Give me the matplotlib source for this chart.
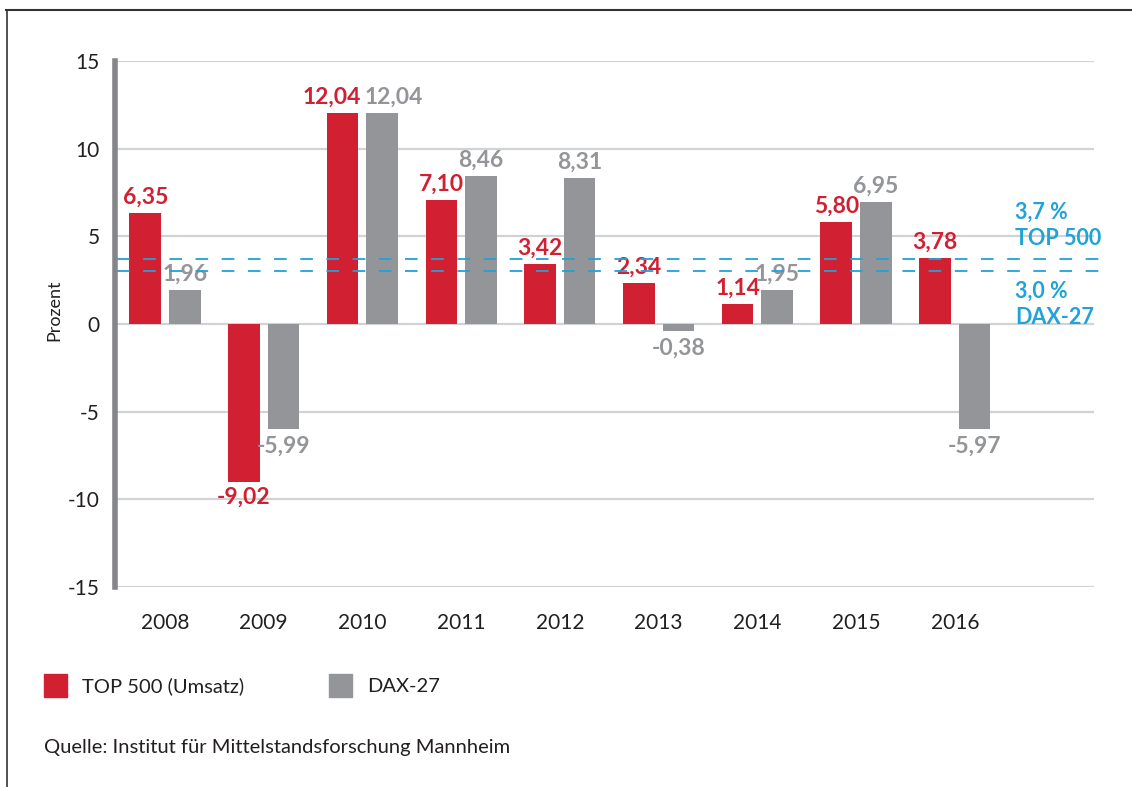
import numpy as np
import matplotlib
matplotlib.use('Agg')
from matplotlib import pyplot as plt
from matplotlib.patches import Rectangle
from matplotlib.lines import Line2D

years = ['2008', '2009', '2010', '2011', '2012', '2013', '2014', '2015', '2016']
top500 = [6.35, -9.02, 12.04, 7.10, 3.42, 2.34, 1.14, 5.80, 3.78]
dax27 = [1.96, -5.99, 12.04, 8.46, 8.31, -0.38, 1.95, 6.95, -5.97]
avg_top500 = 3.7
avg_dax27 = 3.0

red = '#d12031'
grey = '#939598'
blue = '#1fa3d9'
txt = '#231f20'

plt.rcParams['font.family'] = ['Lato', 'DejaVu Sans']
plt.rcParams['axes.unicode_minus'] = False

fig = plt.figure(figsize=(11.32, 7.87), dpi=100)
ax = fig.add_axes([0.1016, 0.2541, 0.8648, 0.6684])

x = np.arange(len(years))
w = 0.32
off = 0.2
ax.bar(x - off, top500, w, color=red, zorder=3)
ax.bar(x + off, dax27, w, color=grey, zorder=3)

ax.set_ylim(-15, 15)
ax.set_xlim(-0.506, 9.41)
ax.set_yticks(range(-15, 16, 5))
ax.set_xticks(x)
ax.set_xticklabels(years)
ax.tick_params(length=0, labelsize=15, colors=txt)
ax.tick_params(axis='x', pad=19)
ax.tick_params(axis='y', pad=11)
ax.grid(axis='y', color='#d1d2d4', linewidth=1.6, zorder=1)
for s in ['top', 'right', 'bottom']:
    ax.spines[s].set_visible(False)
ax.spines['left'].set_color('#858689')
ax.spines['left'].set_linewidth(4)
ax.set_ylabel('Prozent', fontsize=13, color=txt)
ax.yaxis.set_label_coords(-0.054, 0.527)

# small sideways nudges where the 2010 labels would collide
nudge_red = {2: -0.11}
nudge_grey = {2: 0.12}


def fmt(v):
    return f'{v:.2f}'.replace('.', ',')


for i, v in enumerate(top500):
    xi = i - off + nudge_red.get(i, 0)
    if v >= 0:
        ax.text(xi, v + 0.3, fmt(v), ha='center', va='bottom',
                color=red, fontsize=16.5, fontweight='bold', zorder=4)
    else:
        ax.text(xi, v - 0.25, fmt(v), ha='center', va='top',
                color=red, fontsize=16.5, fontweight='bold', zorder=4)
for i, v in enumerate(dax27):
    xi = i + off + nudge_grey.get(i, 0)
    if v >= 0:
        ax.text(xi, v + 0.3, fmt(v), ha='center', va='bottom',
                color=grey, fontsize=16.5, fontweight='bold', zorder=4)
    else:
        ax.text(xi, v - 0.4, fmt(v), ha='center', va='top',
                color=grey, fontsize=16.5, fontweight='bold', zorder=4)

# average lines
for v in [avg_top500, avg_dax27]:
    ax.plot([-0.49, 9.5], [v, v], color=blue, linewidth=1.3, linestyle=(0, (7, 7.5)),
            zorder=5, clip_on=False)
ax.text(8.61, 4.3, '3,7 %\nTOP 500', color=blue, fontsize=15.5,
        fontweight='bold', ha='left', va='bottom', linespacing=1.3)
ax.text(8.61, 2.45, '3,0 %\nDAX-27', color=blue, fontsize=15.5,
        fontweight='bold', ha='left', va='top', linespacing=1.3)

# legend
fig.patches.append(Rectangle((44 / 1132, 1 - 697 / 787), 23 / 1132, 23 / 787,
                             transform=fig.transFigure, color=red))
fig.text(82 / 1132, 1 - 686 / 787, 'TOP 500 (Umsatz)', fontsize=14.5, color=txt, va='center')
fig.patches.append(Rectangle((329 / 1132, 1 - 697 / 787), 23 / 1132, 23 / 787,
                             transform=fig.transFigure, color=grey))
fig.text(367 / 1132, 1 - 686 / 787, 'DAX-27', fontsize=14.5, color=txt, va='center')

fig.text(44 / 1132, 1 - 748 / 787, 'Quelle: Institut für Mittelstandsforschung Mannheim',
         fontsize=14.5, color=txt, va='center')

# frame
fig.lines.append(Line2D([6 / 1132, 1], [1 - 10 / 787, 1 - 10 / 787],
                        transform=fig.transFigure, color='#333333', linewidth=1.5))
fig.lines.append(Line2D([7 / 1132, 7 / 1132], [0, 1 - 10 / 787],
                        transform=fig.transFigure, color='#333333', linewidth=1.2))

fig.savefig('out.png', dpi=100)
